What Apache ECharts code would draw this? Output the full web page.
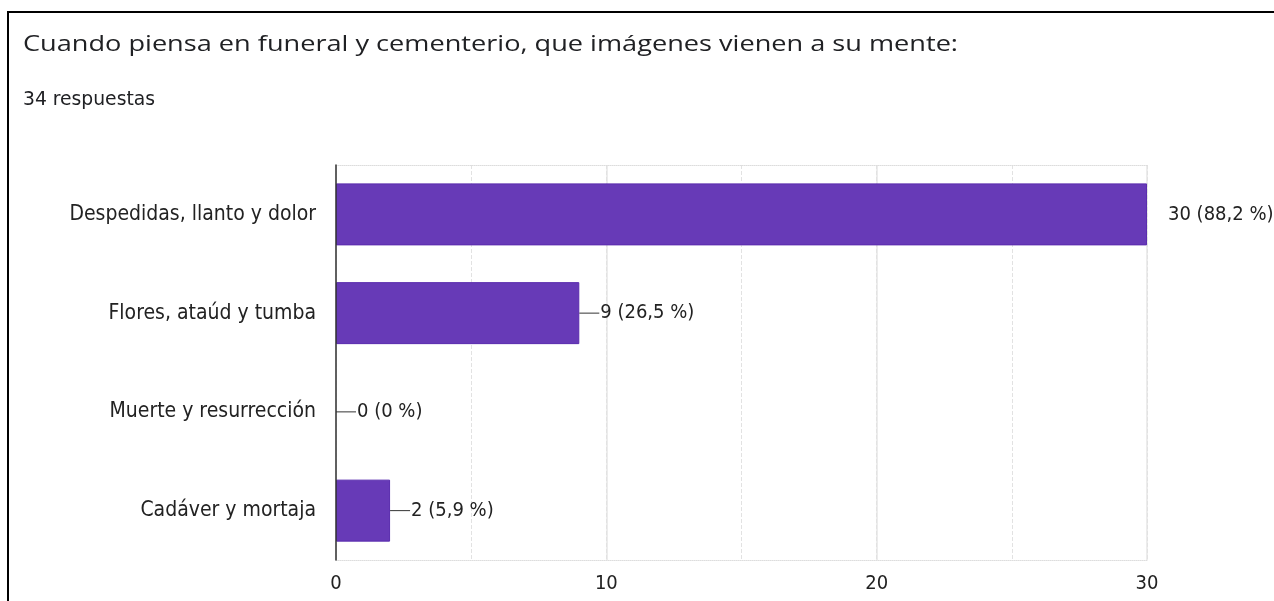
<!DOCTYPE html>
<html><head><meta charset="utf-8">
<script src="https://cdn.jsdelivr.net/npm/echarts@6/dist/echarts.min.js"></script>
<style>html,body{margin:0;padding:0;background:#fff}#c{width:1274px;height:601px}</style>
</head><body><div id="c"></div>
<script>
const titleText = 'Cuando piensa en funeral y cementerio, que imágenes vienen a su mente:';
const subtitleText = '34 respuestas';
const categories = ['Despedidas, llanto y dolor', 'Flores, ataúd y tumba', 'Muerte y resurrección', 'Cadáver y mortaja'];
const counts = [30, 9, 0, 2];
const percents = ['88,2', '26,5', '0', '5,9'];
const xTicks = [0, 10, 20, 30];

const FONT = '"Liberation Sans Narrow", "DejaVu Sans Condensed", "Liberation Sans", sans-serif';
const TFONT = '"Open Sans", Roboto, sans-serif';
const TSIZE = 22;

// horizontal stretch for title to match reference width
const cv = document.createElement('canvas').getContext('2d');
cv.font = TSIZE + 'px ' + TFONT;
const titleW = cv.measureText(titleText).width;
const titleScale = 935 / titleW;
cv.font = '20px ' + FONT;
const subScale = 132 / cv.measureText(subtitleText).width;

const chart = echarts.init(document.getElementById('c'));

const data = counts.map((v, i) => ({
  value: v,
  itemStyle: v === 0 ? { borderWidth: 0 } : undefined,
  label: {
    rich: {
      l: { width: 20, height: 1, backgroundColor: v >= 30 ? 'transparent' : '#333' },
      t: { fontSize: 20, color: '#222', fontFamily: FONT, padding: [0, 0, 0, 1] }
    }
  }
}));

chart.setOption({
  animation: false,
  textStyle: { fontFamily: FONT },
  graphic: [
    { type: 'rect', shape: { x: 8, y: 12, width: 1300, height: 700 }, style: { fill: 'none', stroke: '#000', lineWidth: 2 } },
    { type: 'text', x: 23, y: 45, scaleX: titleScale, style: { text: titleText, fontSize: TSIZE, fill: '#202124', fontFamily: TFONT, verticalAlign: 'middle' } },
    { type: 'text', x: 23, y: 100, scaleX: subScale, style: { text: subtitleText, fontSize: 20, fill: '#202124', fontFamily: FONT, verticalAlign: 'middle' } }
  ],
  grid: { left: 336, right: 127, top: 165, bottom: 41, containLabel: false },
  xAxis: [
    {
      type: 'value', min: 0, max: 30, interval: 10,
      axisLine: { show: true, lineStyle: { color: '#ddd', type: 'dotted' } },
      axisTick: { show: false },
      axisLabel: { fontSize: 20, color: '#222', margin: 14, fontFamily: FONT,
        formatter: v => xTicks.includes(v) ? String(v) : '' },
      splitLine: { show: true, lineStyle: { color: '#e6e6e6', width: 1.5 } }
    },
    {
      type: 'value', min: 0, max: 30, interval: 5, position: 'top',
      axisLine: { show: true, lineStyle: { color: '#ddd', type: 'dotted' } },
      axisTick: { show: false }, axisLabel: { show: false },
      splitLine: { show: true, lineStyle: { color: '#e2e2e2', type: 'dashed', width: 1 } }
    }
  ],
  yAxis: {
    type: 'category', data: categories, inverse: true, z: 5,
    axisLine: { show: true, lineStyle: { color: '#333', width: 1.5 } },
    axisTick: { show: false },
    axisLabel: { fontSize: 21, color: '#222', margin: 20, fontFamily: FONT }
  },
  series: [{
    type: 'bar', xAxisIndex: 0, data: data, barWidth: 62,
    itemStyle: { color: '#673ab7', borderColor: '#5a2cae', borderWidth: 1 },
    label: {
      show: true, position: 'right', distance: 0,
      formatter: p => '{l|}{t|' + p.value + ' (' + percents[p.dataIndex] + ' %)}'
    }
  }]
});
</script></body></html>
